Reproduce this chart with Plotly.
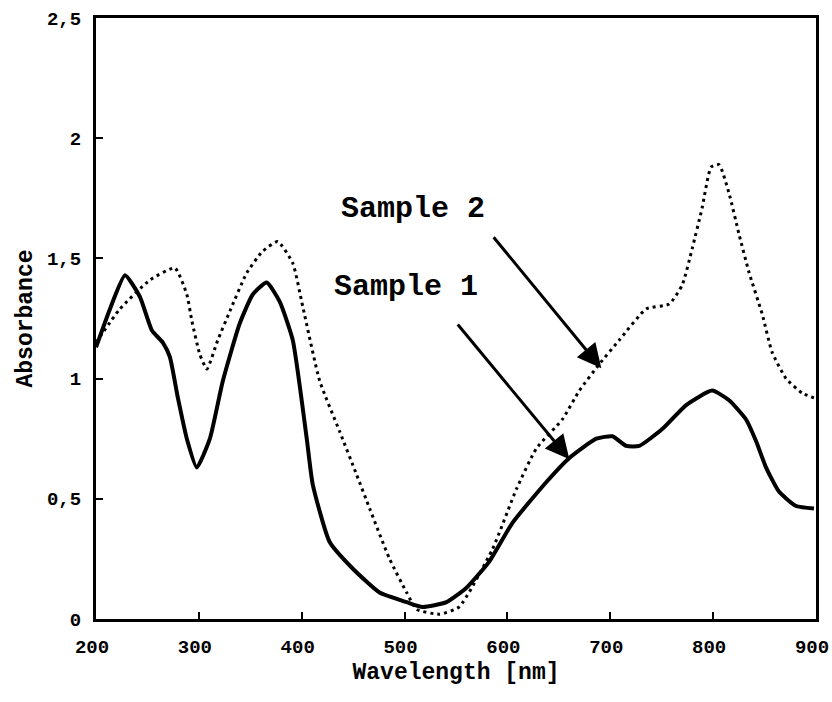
import plotly.graph_objects as go

# Data
wl_s1 = [200, 213.6, 228.2, 242.7, 254.4, 265, 271.8, 279.6, 288.3, 298, 310.7, 323.3,
         339.8, 352.4, 366, 378.6, 391.3, 404.9, 410.7, 427.2, 449.5, 475.7, 502, 517.5,
         540.8, 560.2, 582.5, 604.9, 637.9, 660.2, 686.4, 702, 715.5, 728.2, 750.5, 773.8,
         799, 815.5, 832, 841.7, 851.5, 864, 880.6, 898]
abs_s1 = [1.13, 1.29, 1.43, 1.34, 1.20, 1.15, 1.09, 0.92, 0.75, 0.63, 0.75, 0.99,
          1.23, 1.35, 1.40, 1.32, 1.16, 0.75, 0.56, 0.32, 0.21, 0.11, 0.07, 0.05,
          0.07, 0.13, 0.24, 0.40, 0.57, 0.67, 0.75, 0.76, 0.72, 0.72, 0.79, 0.89,
          0.95, 0.91, 0.83, 0.74, 0.63, 0.53, 0.47, 0.46]

wl_s2 = [200, 223.3, 252.4, 276.7, 288.3, 293.2, 301, 307.8, 318.4, 330.1, 346.6, 362.1,
         376.7, 391.3, 401, 417.5, 436.9, 453.4, 466, 485.4, 502, 511.7, 534, 553,
         585.4, 608.7, 628.2, 653.4, 669.9, 689.3, 708.7, 735, 757.3, 770, 779.6, 789.3,
         798, 805.8, 815.5, 825.2, 835, 847.6, 857.3, 870.9, 886.4, 898]
abs_s2 = [1.15, 1.29, 1.41, 1.46, 1.35, 1.24, 1.10, 1.04, 1.16, 1.28, 1.44, 1.53,
          1.57, 1.48, 1.30, 0.99, 0.78, 0.60, 0.46, 0.25, 0.11, 0.04, 0.02, 0.05,
          0.29, 0.54, 0.71, 0.83, 0.95, 1.06, 1.16, 1.29, 1.31, 1.39, 1.54, 1.71,
          1.88, 1.89, 1.77, 1.60, 1.44, 1.27, 1.11, 1.00, 0.94, 0.92]

x_ticks = [200, 300, 400, 500, 600, 700, 800, 900]
y_ticks = [0, 0.5, 1, 1.5, 2, 2.5]

FONT = "Liberation Mono"

fig = go.Figure()
fig.add_trace(go.Scatter(x=wl_s2, y=abs_s2, mode="lines", name="Sample 2",
                         line=dict(color="black", width=3, dash="3px,4px", shape="spline", smoothing=0.5)))
fig.add_trace(go.Scatter(x=wl_s1, y=abs_s1, mode="lines", name="Sample 1",
                         line=dict(color="black", width=4, shape="spline", smoothing=0.5)))

# Arrows
fig.add_annotation(x=691.3, y=1.043, ax=585.4, ay=1.594, xref="x", yref="y", axref="x", ayref="y",
                   text="", showarrow=True, arrowhead=2, arrowsize=1.6, arrowwidth=3, arrowcolor="black")
fig.add_annotation(x=660.2, y=0.664, ax=550.5, ay=1.231, xref="x", yref="y", axref="x", ayref="y",
                   text="", showarrow=True, arrowhead=2, arrowsize=1.6, arrowwidth=3, arrowcolor="black")
# Labels
fig.add_annotation(x=507.8, y=1.707, xref="x", yref="y", text="<b>Sample 2</b>", showarrow=False,
                   font=dict(family=FONT, size=30, color="black"))
fig.add_annotation(x=501, y=1.38, xref="x", yref="y", text="<b>Sample 1</b>", showarrow=False,
                   font=dict(family=FONT, size=30, color="black"))

fig.update_layout(
    width=832, height=702,
    margin=dict(l=96, r=16, t=18, b=83),
    paper_bgcolor="white", plot_bgcolor="white",
    showlegend=False,
    separators=",.",
    font=dict(family=FONT, size=19, color="black", weight="bold"),
)
fig.update_xaxes(range=[200, 900], tickvals=x_ticks, ticktext=[str(v) for v in x_ticks],
                 automargin=False, ticklabeloverflow="allow", ticklabelstandoff=8, ticklabelshift=-4,
                 showline=True, linecolor="black", linewidth=3, mirror=True,
                 ticks="inside", ticklen=7, tickwidth=2, tickcolor="black",
                 showgrid=False, zeroline=False,
                 title=dict(text="Wavelength [nm]", font=dict(size=23, family=FONT, weight="bold"), standoff=6))
fig.update_yaxes(range=[0, 2.5], tickvals=y_ticks,
                 automargin=False, ticklabeloverflow="allow", ticklabelstandoff=8,
                 showline=True, linecolor="black", linewidth=3, mirror=True,
                 ticks="inside", ticklen=7, tickwidth=2, tickcolor="black",
                 showgrid=False, zeroline=False,
                 title=dict(text="Absorbance", font=dict(size=23, family=FONT, weight="bold"), standoff=8))

fig.write_html("out.html", config={"displayModeBar": False},
               post_script="document.body.style.margin='0';")
